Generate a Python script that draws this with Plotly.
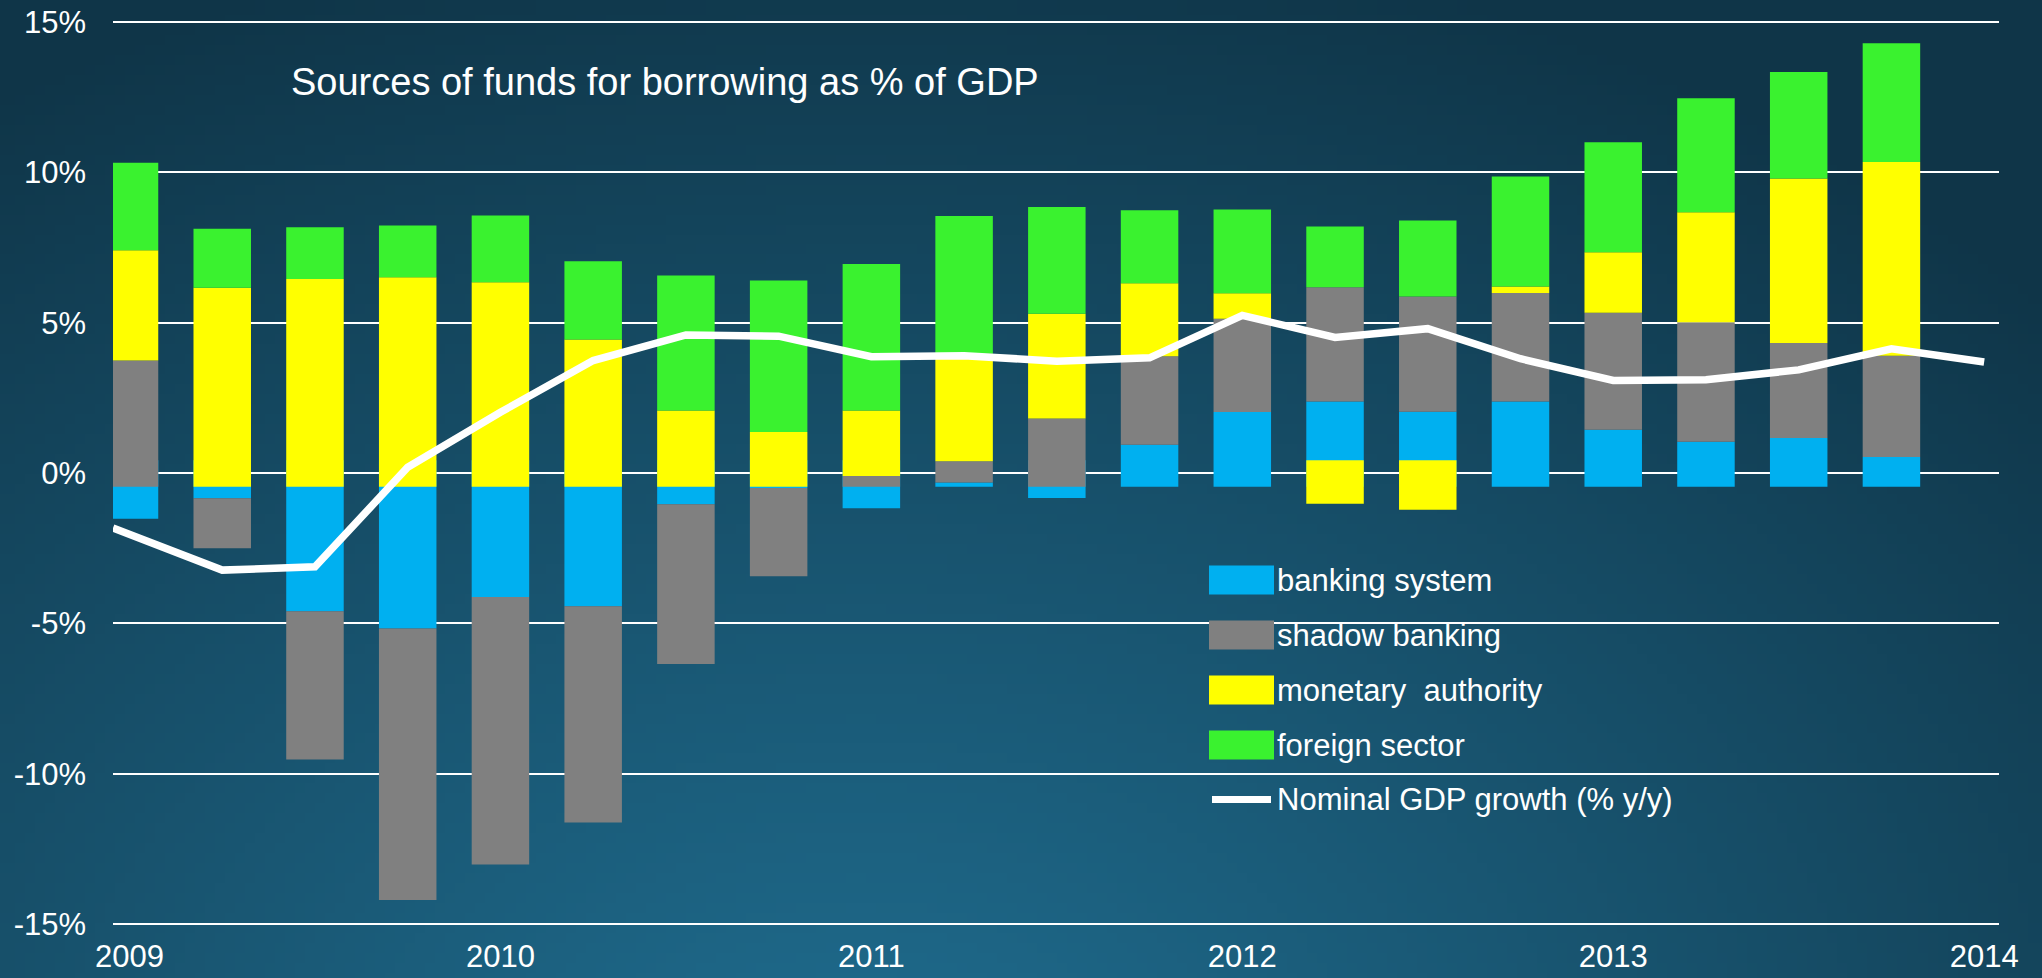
import base64
import struct
import zlib

import plotly.graph_objects as go

# ---------------- data ----------------
years = ["2009", "2010", "2011", "2012", "2013", "2014"]
series_names = ["banking system", "shadow banking", "monetary  authority", "foreign sector"]
line_name = "Nominal GDP growth (% y/y)"
title_text = "Sources of funds for borrowing as % of GDP"

banking = [-1.94, -1.26, -5.02, -5.59, -4.54, -4.85, -1.46, -0.92, -1.59, 0.14,
           -1.25, 1.40, 2.49, 2.84, 2.50, 2.84, 1.90, 1.50, 1.62, 0.99]
shadow = [4.20, -1.66, -4.93, -9.03, -8.90, -7.19, -5.31, -2.93, 0.36, 0.71,
          2.27, 2.94, 3.10, 3.80, 3.83, 3.61, 3.89, 3.97, 3.16, 3.37]
monetary = [3.67, 6.62, 6.91, 6.97, 6.80, 4.90, 2.54, 1.82, 2.18, 3.58,
            3.49, 2.43, 0.85, -1.44, -1.64, 0.21, 2.01, 3.66, 5.47, 6.44]
foreign = [2.91, 1.96, 1.72, 1.72, 2.22, 2.60, 4.49, 5.04, 4.87, 4.58,
           3.55, 2.43, 2.78, 2.02, 2.53, 3.66, 3.66, 3.79, 3.55, 3.95]
gdp_growth = [-1.83, -3.23, -3.12, 0.19, 2.02, 3.74, 4.59, 4.55, 3.87, 3.90,
              3.72, 3.83, 5.24, 4.51, 4.80, 3.80, 3.08, 3.10, 3.43, 4.13, 3.69]

# stack origins of the original chart (positive stack / negative stack)
POS_ORIGIN = -0.46
NEG_ORIGIN = 0.42

colors = ["#00B0F0", "#808080", "#FFFF00", "#3AF22F"]

# ---------------- geometry ----------------
W, H = 2042, 978
ML, MR, MT, MB = 113, 43, 17, 49
PW, PH = W - ML - MR, H - MT - MB
YR = [-15.165, 15.165]
XR = [-0.178, 20.16]

FONT = "Arial, Liberation Sans, Helvetica, sans-serif"


def px_x(px):
    return (px - ML) / PW


def px_y(py):
    return (H - MB - py) / PH


# ---------------- background gradient image ----------------
def make_png(w, h, fn):
    raw = bytearray()
    for j in range(h):
        raw.append(0)
        for i in range(w):
            raw.extend(fn(i / (w - 1), j / (h - 1)))

    def chunk(t, d):
        c = struct.pack(">I", len(d)) + t + d
        return c + struct.pack(">I", zlib.crc32(t + d) & 0xFFFFFFFF)

    data = (b"\x89PNG\r\n\x1a\n"
            + chunk(b"IHDR", struct.pack(">IIBBBBB", w, h, 8, 2, 0, 0, 0))
            + chunk(b"IDAT", zlib.compress(bytes(raw), 9))
            + chunk(b"IEND", b""))
    return "data:image/png;base64," + base64.b64encode(data).decode()


LIGHT = (31, 108, 142)
DARK = (15, 53, 72)


def grad(u, v):
    t = (((u - 0.42) / 0.8) ** 2 + ((v - 1.15) / 1.25) ** 2) ** 0.5
    t = min(1.0, max(0.0, t)) ** 1.1
    return bytes(int(round(LIGHT[k] + (DARK[k] - LIGHT[k]) * t)) for k in range(3))


bg_src = make_png(204, 98, grad)

# ---------------- stacking ----------------
n = len(banking)
xs = list(range(n))
series = [banking, shadow, monetary, foreign]
pos_cum = [POS_ORIGIN] * n
neg_cum = [NEG_ORIGIN] * n

fig = go.Figure()
for name, vals, col in zip(series_names, series, colors):
    bases, lens = [], []
    for i, v in enumerate(vals):
        if v >= 0:
            bases.append(pos_cum[i])
            pos_cum[i] += v
        else:
            bases.append(neg_cum[i])
            neg_cum[i] += v
        lens.append(v)
    fig.add_trace(go.Bar(
        x=xs, y=lens, base=bases, name=name, width=0.62,
        marker=dict(color=col, line=dict(width=0)),
        showlegend=False, hoverinfo="skip",
    ))

# the GDP line starts at the left edge of the axis in the original
line_x = [XR[0]] + list(range(1, len(gdp_growth)))
fig.add_trace(go.Scatter(
    x=line_x, y=gdp_growth, mode="lines", name=line_name,
    line=dict(color="white", width=7.5), showlegend=False, hoverinfo="skip",
))

# ---------------- manual legend ----------------
shapes = []
annotations = []
leg_centers = [580, 635, 690, 745]
for name, col, cy in zip(series_names, colors, leg_centers):
    shapes.append(dict(type="rect", xref="paper", yref="paper",
                       x0=px_x(1209), x1=px_x(1274), y0=px_y(cy + 14.5), y1=px_y(cy - 14.5),
                       fillcolor=col, line=dict(width=0), layer="above"))
    annotations.append(dict(text=name, xref="paper", yref="paper", x=px_x(1275), y=px_y(cy),
                            xanchor="left", yanchor="middle", showarrow=False,
                            font=dict(family=FONT, size=31, color="white")))
shapes.append(dict(type="line", xref="paper", yref="paper",
                   x0=px_x(1212), x1=px_x(1271), y0=px_y(799.5), y1=px_y(799.5),
                   line=dict(color="white", width=7), layer="above"))
annotations.append(dict(text=line_name, xref="paper", yref="paper", x=px_x(1275), y=px_y(799.5),
                        xanchor="left", yanchor="middle", showarrow=False,
                        font=dict(family=FONT, size=31, color="white")))

annotations.append(dict(text=title_text, xref="paper", yref="paper", x=px_x(289), y=px_y(82),
                        xanchor="left", yanchor="middle", showarrow=False,
                        font=dict(family=FONT, size=38, color="white")))

fig.update_layout(
    width=W, height=H,
    margin=dict(l=ML, r=MR, t=MT, b=MB, pad=0, autoexpand=False),
    barmode="overlay",
    paper_bgcolor="#123f56",
    plot_bgcolor="rgba(0,0,0,0)",
    showlegend=False,
    shapes=shapes,
    annotations=annotations,
    images=[dict(source=bg_src, xref="paper", yref="paper",
                 x=-ML / PW, y=1 + MT / PH, sizex=W / PW, sizey=H / PH,
                 xanchor="left", yanchor="top", sizing="stretch", layer="below")],
    font=dict(family=FONT, color="white", size=31),
)

fig.update_xaxes(
    range=XR, tickmode="array", tickvals=[0, 4, 8, 12, 16, 20], ticktext=years,
    showgrid=False, zeroline=False, showline=False, ticks="", automargin=False,
    ticklabelstandoff=6, tickfont=dict(family=FONT, size=31, color="white"),
)
fig.update_yaxes(
    range=YR, tickmode="array", tickvals=[-15, -10, -5, 0, 5, 10, 15],
    ticktext=["-15%", "-10%", "-5%", "0%", "5%", "10%", "15%"],
    showgrid=True, gridcolor="white", gridwidth=2, zeroline=False, showline=False,
    automargin=False,
    ticks="", ticklabelstandoff=26, tickfont=dict(family=FONT, size=31, color="white"),
)

fig.write_html("out.html")
